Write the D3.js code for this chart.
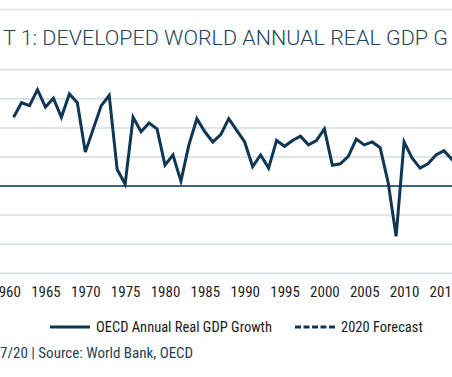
<!DOCTYPE html>
<html>
<head>
<meta charset="utf-8">
<script src="https://cdn.jsdelivr.net/npm/d3@7"></script>
<style>
  html, body { margin: 0; padding: 0; background: #fff; }
  svg { display: block; }
</style>
</head>
<body>
<div id="chart"></div>
<script>
// data (OECD annual real GDP growth, %)
const years = d3.range(1961, 2020);
const gdpGrowth = [
  4.7, 5.7, 5.5, 6.6, 5.4, 6.0, 4.7, 6.3, 5.7, 2.3,   // 1961-1970
  3.9, 5.5, 6.2, 1.1, 0.1, 4.7, 3.7, 4.3, 3.9, 1.4,   // 1971-1980
  2.1, 0.3, 2.8, 4.6, 3.7, 3.0, 3.5, 4.6, 3.8, 3.0,   // 1981-1990
  1.3, 2.1, 1.2, 3.1, 2.7, 3.1, 3.4, 2.8, 3.1, 3.9,   // 1991-2000
  1.4, 1.5, 2.0, 3.2, 2.8, 3.0, 2.6, 0.2, -3.5, 3.0,  // 2001-2010
  1.9, 1.2, 1.5, 2.1, 2.4, 1.8, 2.6, 2.3, 1.6         // 2011-2019
];
const forecastYears = [2019, 2020];
const forecastValues = [1.6, -7.5];

const xTicks = [1960, 1965, 1970, 1975, 1980, 1985, 1990, 1995, 2000, 2005, 2010, 2015];
const yTicks = [-6, -4, -2, 0, 2, 4, 6, 8];

const titleText = "T 1: DEVELOPED WORLD ANNUAL REAL GDP G";
const noteText = "7/20 | Source: World Bank, OECD";
const legendItems = ["OECD Annual Real GDP Growth", "2020 Forecast"];

const W = 452, H = 377;
const lineColor = "#0f3652";
const condensed = "'Liberation Sans Narrow', 'Roboto Condensed', 'Liberation Sans', sans-serif";

const svg = d3.select("#chart").append("svg")
  .attr("width", W)
  .attr("height", H);

// scales
const x = d3.scaleLinear().domain([1960, 2016]).range([5.6, 451.9]);
const y = d3.scaleLinear().domain([-6, 8]).range([272.7, 69.3]);

// thin rule above the title
svg.append("line")
  .attr("x1", 0).attr("x2", W)
  .attr("y1", 9.5).attr("y2", 9.5)
  .attr("stroke", "#dce5ec")
  .attr("stroke-width", 1.5);

// title (cropped in the source)
svg.append("text")
  .attr("x", 3)
  .attr("y", 45)
  .attr("textLength", 445)
  .attr("lengthAdjust", "spacingAndGlyphs")
  .style("font-family", "Roboto, sans-serif")
  .style("font-weight", 300)
  .style("font-size", "21px")
  .style("fill", "#23445f")
  .text(titleText);

// gridlines
const yAxis = svg.append("g")
  .call(d3.axisLeft(y).tickValues(yTicks).tickSize(-W).tickFormat(""))
  .call(g => g.select(".domain").remove());
yAxis.selectAll(".tick line")
  .attr("stroke", d => d === 0 ? "#3f6579" : "#d3dde6")
  .attr("stroke-width", d => d === 0 ? 2 : 1.5);

// x axis labels
const xAxis = svg.append("g")
  .attr("transform", "translate(0,283)")
  .call(d3.axisBottom(x).tickValues(xTicks).tickFormat(d3.format("d")).tickSize(0));
xAxis.select(".domain").remove();
xAxis.selectAll("text")
  .style("font-family", condensed)
  .style("font-size", "15px")
  .style("fill", "#1e1e1e");

// lines
svg.append("clipPath").attr("id", "plotClip")
  .append("rect").attr("x", 0).attr("y", 0).attr("width", W).attr("height", H);

const line = d3.line()
  .x(d => x(d[0]))
  .y(d => y(d[1]));

const plot = svg.append("g").attr("clip-path", "url(#plotClip)");

plot.append("path")
  .datum(years.map((yr, i) => [yr, gdpGrowth[i]]))
  .attr("d", line)
  .attr("fill", "none")
  .attr("stroke", lineColor)
  .attr("stroke-width", 3)
  .attr("stroke-linejoin", "miter");

plot.append("path")
  .datum(forecastYears.map((yr, i) => [yr, forecastValues[i]]))
  .attr("d", line)
  .attr("fill", "none")
  .attr("stroke", lineColor)
  .attr("stroke-width", 3)
  .attr("stroke-dasharray", "6,2.5");

// legend
const legend = svg.append("g").attr("transform", "translate(0,327)");
const legendPos = [50, 295];
legendItems.forEach((label, i) => {
  legend.append("line")
    .attr("x1", legendPos[i]).attr("x2", legendPos[i] + 40)
    .attr("y1", 0).attr("y2", 0)
    .attr("stroke", lineColor)
    .attr("stroke-width", 3)
    .attr("stroke-dasharray", i === 1 ? "6,2.5" : null);
  legend.append("text")
    .attr("x", legendPos[i] + 46)
    .attr("y", 5)
    .style("font-family", condensed)
    .style("font-size", "14.5px")
    .style("fill", "#1a1a1a")
    .text(label);
});

// source note (cropped in the source)
svg.append("text")
  .attr("x", 0)
  .attr("y", 358)
  .style("font-family", condensed)
  .style("font-size", "15px")
  .style("fill", "#1f3e5a")
  .text(noteText);
</script>
</body>
</html>
